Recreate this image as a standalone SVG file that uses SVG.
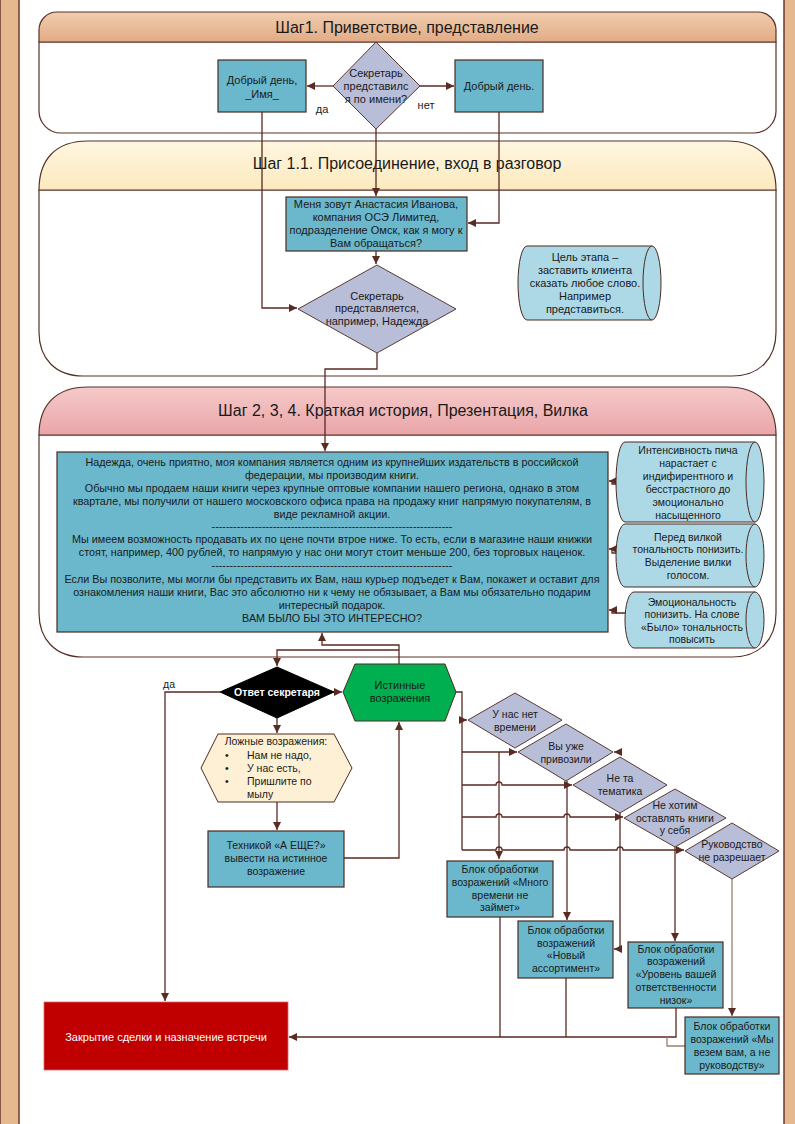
<svg xmlns="http://www.w3.org/2000/svg" width="795" height="1124" viewBox="0 0 795 1124">
<defs>
<linearGradient id="g1" x1="0" y1="0" x2="0" y2="1"><stop offset="0" stop-color="#F0CDB0"/><stop offset="1" stop-color="#E2AB84"/></linearGradient>
<linearGradient id="g2" x1="0" y1="0" x2="0" y2="1"><stop offset="0" stop-color="#FFF7E0"/><stop offset="1" stop-color="#FCE9BE"/></linearGradient>
<linearGradient id="g3" x1="0" y1="0" x2="0" y2="1"><stop offset="0" stop-color="#F5CACA"/><stop offset="1" stop-color="#E9A5A8"/></linearGradient>
<marker id="ar" viewBox="0 0 8 8" refX="8" refY="4" markerWidth="8" markerHeight="8" markerUnits="userSpaceOnUse" orient="auto"><path d="M0,0 L8,4 L0,8 z" fill="#5B2A22"/></marker>
</defs>
<style>
text{font-family:"Liberation Sans",Arial,sans-serif;fill:#1a1a1a;}
.t{font-size:11px;text-anchor:middle;}
.s{font-size:10.5px;text-anchor:middle;}
.b{font-size:10.8px;text-anchor:middle;}
.h{font-size:16px;text-anchor:middle;}
.box{fill:#6BB7CB;stroke:#4A2A22;stroke-width:1.2;}
.dia{fill:#B8BDD8;stroke:#5B3A32;stroke-width:1;}
.note{fill:#ADD8E6;stroke:#4A2A22;stroke-width:1;}
.pan{fill:#ffffff;stroke:#5A3028;stroke-width:1.2;}
.bar{fill:#E5B88F;stroke:#6B3A2E;stroke-width:1.5;}
.c{fill:none;stroke:#5B2A22;stroke-width:1.3;}
.cl{fill:none;stroke:#9C7E76;stroke-width:1.3;}
</style>
<rect width="795" height="1124" fill="#ffffff"/>
<rect class="bar" x="0" y="-2" width="19" height="1128"/>
<rect class="bar" x="784" y="-2" width="13" height="1128"/>

<g id="panel1">
<path class="pan" d="M39,42 H776 V111 A22,22 0 0 1 754,133 H61 A22,22 0 0 1 39,111 Z"/>
<path d="M39,42 V30 A18,18 0 0 1 57,12 H758 A18,18 0 0 1 776,30 V42 Z" fill="url(#g1)" stroke="#5A3028" stroke-width="1.2"/>
<text class="h" x="407" y="33">Шаг1. Приветствие, представление</text>
</g>
<g id="panel2">
<path class="pan" d="M39,190 H776 V332 C776,358 760,376 732,376 H83 C55,376 39,358 39,332 Z"/>
<path d="M39,190 C39,160 55,141 88,141 H727 C760,141 776,160 776,190 Z" fill="url(#g2)" stroke="#5A3028" stroke-width="1.2"/>
<text class="h" x="407" y="169">Шаг 1.1. Присоединение, вход в разговор</text>
</g>
<g id="panel3">
<path class="pan" d="M39,435 H776 V613 C776,639 760,657 732,657 H83 C55,657 39,639 39,613 Z"/>
<path d="M39,435 C39,406 55,387 88,387 H727 C760,387 776,406 776,435 Z" fill="url(#g3)" stroke="#5A3028" stroke-width="1.2"/>
<text class="h" x="403" y="416">Шаг 2, 3, 4. Краткая история, Презентация, Вилка</text>
</g>

<g id="connectors">
<path class="c" d="M333,86 H307" marker-end="url(#ar)"/>
<path class="c" d="M420,86 H454" marker-end="url(#ar)"/>
<path class="c" d="M262,112 V308 H297" marker-end="url(#ar)"/>
<path class="c" d="M499,112 V223 H468" marker-end="url(#ar)"/>
<path class="c" d="M376,129 V196" marker-end="url(#ar)"/>
<path class="c" d="M376,251 V264" marker-end="url(#ar)"/>
<path class="c" d="M377,353 V369 H325 V451" marker-end="url(#ar)"/>
<path class="c" d="M617,484 H612 V481 H609" marker-end="url(#ar)"/>
<path class="c" d="M617,553 H612 V549 H609" marker-end="url(#ar)"/>
<path class="c" d="M626,613 H612 V610 H609" marker-end="url(#ar)"/>
<path class="c" d="M399,664 V645 H322 V633" marker-end="url(#ar)"/>
<path class="c" d="M399,650 H277 V666" marker-end="url(#ar)"/>
<path class="c" d="M333,692 H342" marker-end="url(#ar)"/>
<path class="c" d="M277,718 V733" marker-end="url(#ar)"/>
<path class="c" d="M277,802 V830" marker-end="url(#ar)"/>
<path class="c" d="M344,858 H399 V722" marker-end="url(#ar)"/>
<path class="c" d="M220,692 H165 V1001" marker-end="url(#ar)"/>
<path class="c" d="M456,692 H462 V850"/>
<path class="c" d="M462,720 H467" marker-end="url(#ar)"/>
<path class="c" d="M462,752 H517" marker-end="url(#ar)"/>
<path class="c" d="M619,752 H614" marker-end="url(#ar)"/>
<path class="c" d="M499,752 V859" marker-end="url(#ar)"/>
<path class="c" d="M462,785 H496 a3,3 0 0 1 6,0 H572" marker-end="url(#ar)"/>
<path class="c" d="M462,817 H496 a3,3 0 0 1 6,0 H564 a3,3 0 0 1 6,0 H623" marker-end="url(#ar)"/>
<path class="c" d="M462,850 H496 a3,3 0 0 1 6,0 H564 a3,3 0 0 1 6,0 H617 a3,3 0 0 1 6,0 H684" marker-end="url(#ar)"/>
<path class="c" d="M567,781 V920" marker-end="url(#ar)"/>
<path class="c" d="M620,813 V949 H614" marker-end="url(#ar)"/>
<path class="c" d="M675,847 V941" marker-end="url(#ar)"/>
<path class="cl" d="M732,879 V1016" marker-end="url(#ar)"/>
<path class="c" d="M500,917 V1037"/>
<path class="c" d="M566,978 V1037"/>
<path class="c" d="M676,1008 V1037 H289" marker-end="url(#ar)"/>
<path class="cl" d="M685,1046 H667 V1037"/>
</g>

<g id="n-dobry-imya">
<rect class="box" x="218" y="60" width="88" height="52"/>
<text class="t" x="262" y="84">Добрый день,</text>
<text class="t" x="262" y="98">_Имя_</text>
</g>
<g id="n-q1">
<path class="dia" d="M376,42 L420,86 L376,129 L333,86 Z"/>
<text class="t" x="376" y="77">Секретарь</text>
<text class="t" x="376" y="90">представилс</text>
<text class="t" x="376" y="103">я по имени?</text>
</g>
<text class="t" x="322" y="113">да</text>
<text class="t" x="426" y="109">нет</text>
<g id="n-dobry">
<rect class="box" x="455" y="60" width="88" height="52"/>
<text class="t" x="499" y="90">Добрый день.</text>
</g>

<g id="n-menya">
<rect class="box" x="286" y="197" width="181" height="54"/>
<text class="t" x="376" y="208">Меня зовут Анастасия Иванова,</text>
<text class="t" x="376" y="221">компания ОСЭ Лимитед,</text>
<text class="t" x="376" y="234">подразделение Омск, как я могу к</text>
<text class="t" x="376" y="247">Вам обращаться?</text>
</g>
<g id="n-q2">
<path class="dia" d="M377,265 L456,309 L377,353 L298,309 Z"/>
<text class="t" x="377" y="300">Секретарь</text>
<text class="t" x="377" y="312">представляется,</text>
<text class="t" x="377" y="325">например, Надежда</text>
</g>
<g id="n-goal">
<path class="note" d="M527,246 H652 A9,37 0 0 1 652,320 H527 A9,37 0 0 1 527,246 Z"/>
<path class="note" d="M652,246 A9,37 0 0 0 652,320" fill="none"/>
<text class="t" x="585" y="261">Цель этапа –</text>
<text class="t" x="585" y="274">заставить клиента</text>
<text class="t" x="585" y="287">сказать любое слово.</text>
<text class="t" x="585" y="300">Например</text>
<text class="t" x="585" y="313">представиться.</text>
</g>

<g id="n-pitch">
<rect class="box" x="57" y="452" width="551" height="180"/>
<text class="b" x="332" y="466">Надежда, очень приятно, моя компания является одним из крупнейших издательств в российской</text>
<text class="b" x="332" y="479">федерации, мы производим книги.</text>
<text class="b" x="332" y="492">Обычно мы продаем наши книги через крупные оптовые компании нашего региона, однако в этом</text>
<text class="b" x="332" y="505">квартале, мы получили от нашего московского офиса права на продажу книг напрямую покупателям, в</text>
<text class="b" x="332" y="518">виде рекламной акции.</text>
<text class="b" x="332" y="530">-------------------------------------------------------------------</text>
<text class="b" x="332" y="543">Мы имеем возможность продавать их по цене почти втрое ниже. То есть, если в магазине наши книжки</text>
<text class="b" x="332" y="556">стоят, например, 400 рублей, то напрямую у нас они могут стоит меньше 200, без торговых наценок.</text>
<text class="b" x="332" y="569">-------------------------------------------------------------------</text>
<text class="b" x="332" y="583">Если Вы позволите, мы могли бы представить их Вам, наш курьер подъедет к Вам, покажет и оставит для</text>
<text class="b" x="332" y="596">ознакомления наши книги, Вас это абсолютно ни к чему не обязывает, а Вам мы обязательно подарим</text>
<text class="b" x="332" y="609">интересный подарок.</text>
<text class="b" x="332" y="622">ВАМ БЫЛО БЫ ЭТО ИНТЕРЕСНО?</text>
</g>
<g id="n-noteA">
<path class="note" d="M625,442 H755 A9,40 0 0 1 755,522 H625 A9,40 0 0 1 625,442 Z"/>
<path class="note" d="M755,442 A9,40 0 0 0 755,522" fill="none"/>
<text class="s" x="688" y="454">Интенсивность пича</text>
<text class="s" x="688" y="467">нарастает с</text>
<text class="s" x="688" y="480">индифирентного и</text>
<text class="s" x="688" y="493">бесстрастного до</text>
<text class="s" x="688" y="506">эмоционально</text>
<text class="s" x="688" y="519">насыщенного</text>
</g>
<g id="n-noteB">
<path class="note" d="M625,524 H755 A9,31.5 0 0 1 755,587 H625 A9,31.5 0 0 1 625,524 Z"/>
<path class="note" d="M755,524 A9,31.5 0 0 0 755,587" fill="none"/>
<text class="s" x="688" y="541">Перед вилкой</text>
<text class="s" x="688" y="553">тональность понизить.</text>
<text class="s" x="688" y="566">Выделение вилки</text>
<text class="s" x="688" y="579">голосом.</text>
</g>
<g id="n-noteC">
<path class="note" d="M634,592 H755 A9,28 0 0 1 755,648 H634 A9,28 0 0 1 634,592 Z"/>
<path class="note" d="M755,592 A9,28 0 0 0 755,648" fill="none"/>
<text class="s" x="692" y="606">Эмоциональность</text>
<text class="s" x="692" y="618">понизить. На слове</text>
<text class="s" x="692" y="631">«Было» тональность</text>
<text class="s" x="692" y="643">повысить</text>
</g>

<g id="n-answer">
<path d="M277,667 L334,692 L277,718 L220,692 Z" fill="#000000" stroke="#000000"/>
<text x="277" y="696" style="font-size:10.5px;text-anchor:middle;fill:#ffffff;font-weight:bold">Ответ секретаря</text>
</g>
<text x="163" y="688" style="font-size:10.5px">да</text>
<g id="n-true">
<path d="M355,664 H445 L456,692 L445,721 H355 L343,692 Z" fill="#00B050" stroke="#4A2A22" stroke-width="1"/>
<text class="t" x="400" y="689">Истинные</text>
<text class="t" x="400" y="702">возражения</text>
</g>
<g id="n-false">
<path d="M218,734 H334 L352,768 L334,802 H218 L201,768 Z" fill="#FDF0D4" stroke="#4A2A22" stroke-width="1"/>
<text class="s" x="276" y="745">Ложные возражения:</text>
<text x="225" y="759" style="font-size:10.5px">•</text>
<text x="247" y="759" style="font-size:10.5px">Нам не надо,</text>
<text x="225" y="772" style="font-size:10.5px">•</text>
<text x="247" y="772" style="font-size:10.5px">У нас есть,</text>
<text x="225" y="785" style="font-size:10.5px">•</text>
<text x="247" y="785" style="font-size:10.5px">Пришлите по</text>
<text x="247" y="798" style="font-size:10.5px">мылу</text>
</g>
<g id="n-tech">
<rect class="box" x="208" y="831" width="136" height="56"/>
<text class="s" x="276" y="849">Техникой «А ЕЩЕ?»</text>
<text class="s" x="276" y="862">вывести на истинное</text>
<text class="s" x="276" y="875">возражение</text>
</g>

<g id="n-d1">
<path class="dia" d="M515,693 L562,720 L515,748 L468,720 Z"/>
<text class="s" x="515" y="718">У нас нет</text>
<text class="s" x="515" y="731">времени</text>
</g>
<g id="n-d2">
<path class="dia" d="M566,724 L613,752 L566,781 L518,752 Z"/>
<text class="s" x="566" y="750">Вы уже</text>
<text class="s" x="566" y="763">привозили</text>
</g>
<g id="n-d3">
<path class="dia" d="M620,757 L667,785 L620,813 L573,785 Z"/>
<text class="s" x="620" y="782">Не та</text>
<text class="s" x="620" y="795">тематика</text>
</g>
<g id="n-d4">
<path class="dia" d="M675,789 L726,818 L675,847 L624,818 Z"/>
<text class="s" x="675" y="809">Не хотим</text>
<text class="s" x="675" y="822">оставлять книги</text>
<text class="s" x="675" y="834">у себя</text>
</g>
<g id="n-d5">
<path class="dia" d="M732,823 L779,851 L732,879 L685,851 Z"/>
<text class="s" x="732" y="848">Руководство</text>
<text class="s" x="732" y="861">не разрешает</text>
</g>

<g id="n-b1">
<rect class="box" x="447" y="861" width="106" height="56"/>
<text class="s" x="500" y="873">Блок обработки</text>
<text class="s" x="500" y="886">возражений «Много</text>
<text class="s" x="500" y="899">времени не</text>
<text class="s" x="500" y="911">займет»</text>
</g>
<g id="n-b2">
<rect class="box" x="518" y="921" width="95" height="57"/>
<text class="s" x="566" y="934">Блок обработки</text>
<text class="s" x="566" y="947">возражений</text>
<text class="s" x="566" y="959">«Новый</text>
<text class="s" x="566" y="972">ассортимент»</text>
</g>
<g id="n-b3">
<rect class="box" x="628" y="942" width="95" height="66"/>
<text class="s" x="676" y="953">Блок обработки</text>
<text class="s" x="676" y="965">возражений</text>
<text class="s" x="676" y="978">«Уровень вашей</text>
<text class="s" x="676" y="991">ответственности</text>
<text class="s" x="676" y="1004">низок»</text>
</g>
<g id="n-b4">
<rect class="box" x="685" y="1017" width="94" height="57"/>
<text class="s" x="732" y="1030">Блок обработки</text>
<text class="s" x="732" y="1043">возражений «Мы</text>
<text class="s" x="732" y="1056">везем вам, а не</text>
<text class="s" x="732" y="1069">руководству»</text>
</g>
<g id="n-close">
<rect x="44" y="1002" width="244" height="68" fill="#C00000" stroke="#E06666" stroke-width="0.8"/>
<text class="t" x="166" y="1041" style="fill:#ffffff">Закрытие сделки и назначение встречи</text>
</g>
</svg>
